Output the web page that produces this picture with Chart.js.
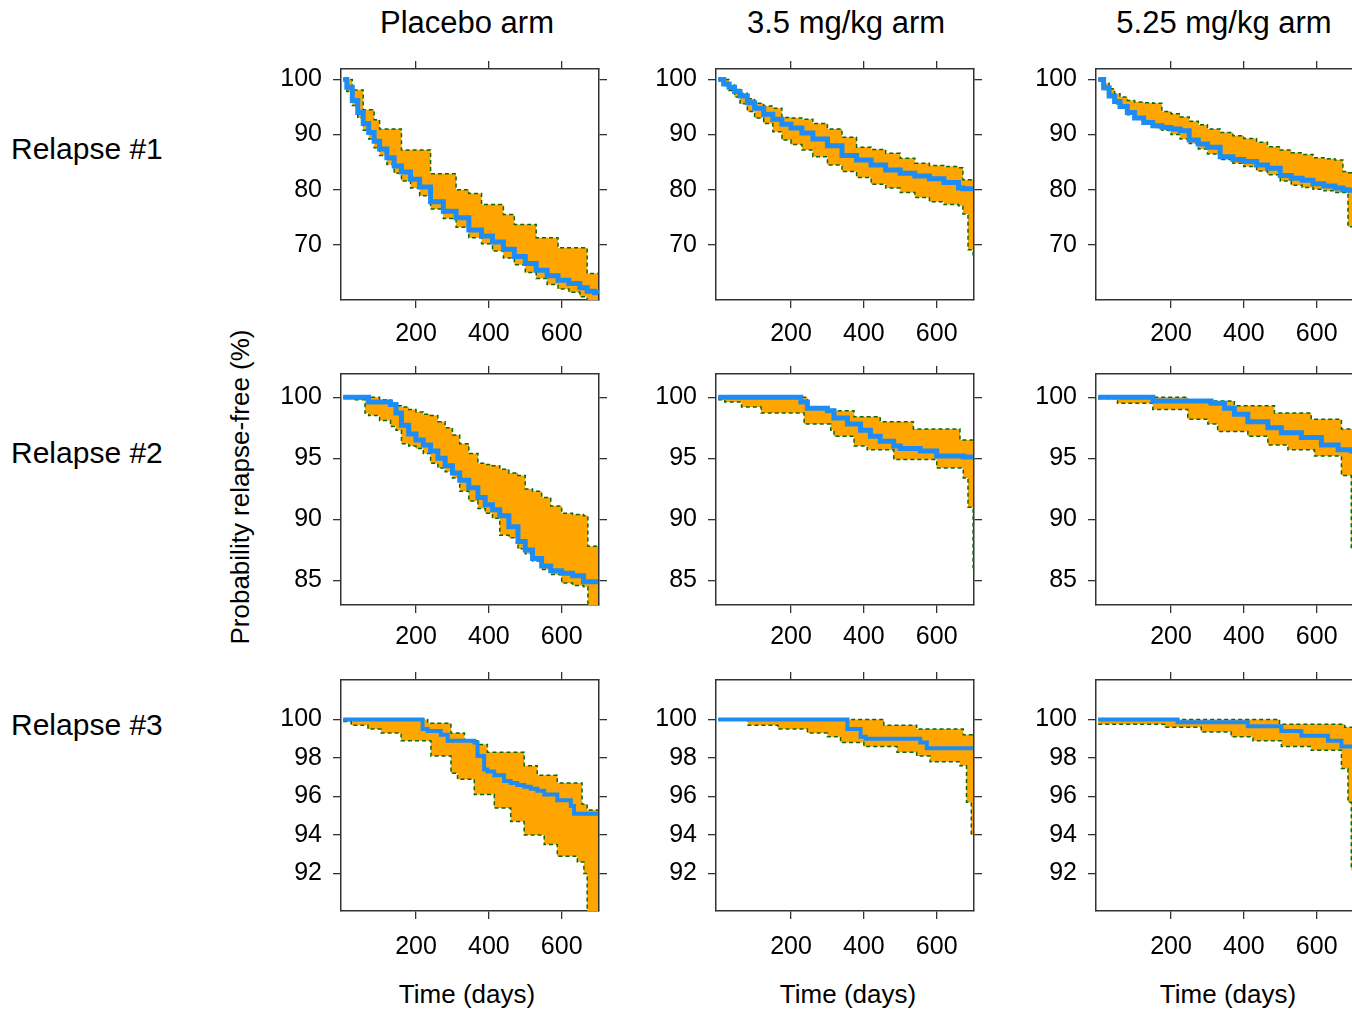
<!DOCTYPE html>
<html>
<head>
<meta charset="utf-8">
<script src="https://cdn.jsdelivr.net/npm/chart.js@4.4.1/dist/chart.umd.min.js"></script>
<style>
  html, body { margin: 0; padding: 0; background: #fff; overflow: hidden; width: 1352px; height: 1010px; }
  .lbl { position: absolute; font-family: "Liberation Sans", Arial, sans-serif; color: #000; line-height: 1; white-space: nowrap; }
  .panel { position: absolute; }
</style>
</head>
<body>
<script>
// labels
const arms = ["Placebo arm", "3.5 mg/kg arm", "5.25 mg/kg arm"];
const relapses = ["Relapse #1", "Relapse #2", "Relapse #3"];
const xTitle = "Time (days)";
const yTitle = "Probability relapse-free (%)";

// tick values
const xTicks = [200, 400, 600];
const yTicksR1 = [70, 80, 90, 100];
const yTicksR2 = [85, 90, 95, 100];
const yTicksR3 = [92, 94, 96, 98, 100];

// Relapse #1 - placebo
const r1PlaT  = [0, 10, 25, 40, 55, 70, 85, 100, 120, 140, 160, 185, 210, 240, 275, 310, 345, 380, 410, 440, 470, 500, 530, 560, 590, 620, 650, 670, 690, 700];
const r1PlaKM = [100, 98.6, 96.2, 94.0, 92.0, 90.4, 88.8, 87.4, 85.8, 84.3, 83.2, 81.9, 80.5, 77.8, 76.1, 74.9, 72.7, 71.6, 70.5, 69.2, 67.9, 66.6, 65.4, 64.4, 63.6, 63.0, 62.2, 61.6, 61.3, 61.2];
const r1PlaHi = [100, 100, 98.1, 98.1, 94.5, 94.5, 92.7, 91.0, 91.0, 91.0, 87.2, 87.2, 87.2, 82.9, 82.9, 80.0, 79.3, 77.3, 77.3, 75.5, 73.7, 73.7, 71.3, 71.3, 69.5, 69.5, 69.5, 64.8, 64.8, 64.8];
const r1PlaLo = [100, 97.8, 95.3, 93.0, 90.8, 89.2, 87.6, 86.2, 84.6, 83.0, 81.6, 80.3, 78.9, 76.5, 74.8, 73.2, 71.3, 70.2, 68.9, 67.6, 66.4, 65.0, 63.9, 62.8, 62.0, 61.4, 60.6, 59.8, 59.5, 59.5];

// Relapse #1 - 3.5 mg/kg
const r1LowT  = [0, 15, 30, 45, 60, 80, 100, 125, 150, 175, 200, 230, 260, 300, 340, 380, 420, 460, 500, 540, 580, 620, 660, 672, 686, 700];
const r1LowKM = [100, 99.2, 98.6, 97.8, 97.0, 95.8, 94.8, 93.7, 92.8, 91.9, 91.2, 90.3, 89.2, 88.0, 86.2, 85.4, 84.5, 83.6, 83.0, 82.5, 82.0, 81.3, 80.3, 80.2, 80.2, 80.2];
const r1LowHi = [100, 100, 99.0, 98.2, 97.5, 96.5, 95.7, 95.2, 94.8, 93.1, 93.0, 92.8, 92.0, 91.0, 89.5, 87.7, 87.3, 86.6, 85.7, 84.8, 84.4, 84.2, 84.0, 81.8, 81.8, 81.8];
const r1LowLo = [100, 98.8, 98.0, 96.8, 95.6, 94.2, 93.0, 92.0, 90.5, 89.0, 88.2, 87.2, 86.0, 84.5, 83.3, 82.2, 81.0, 80.3, 79.5, 78.6, 77.8, 77.3, 77.1, 75.6, 69.1, 67.6];

// Relapse #1 - 5.25 mg/kg
const r1HighT  = [0, 15, 30, 45, 60, 80, 100, 125, 150, 175, 200, 225, 250, 275, 300, 335, 370, 400, 435, 465, 500, 530, 560, 590, 620, 650, 672, 686, 700];
const r1HighKM = [100, 98.5, 97.0, 96.0, 95.1, 94.0, 93.0, 92.2, 91.6, 91.3, 91.0, 90.7, 89.0, 88.3, 87.7, 86.0, 85.5, 85.1, 84.5, 83.9, 82.6, 82.1, 81.7, 81.1, 80.7, 80.3, 80.0, 79.9, 79.8];
const r1HighHi = [100, 99.3, 98.3, 97.4, 96.8, 96.2, 95.9, 95.8, 95.7, 94.2, 93.8, 93.2, 92.4, 91.8, 91.0, 90.4, 89.8, 89.3, 88.6, 87.8, 87.2, 86.7, 86.4, 85.8, 85.6, 85.4, 83.3, 83.1, 83.0];
const r1HighLo = [100, 98.2, 96.8, 95.6, 94.8, 93.6, 92.8, 92.0, 91.3, 90.8, 90.0, 89.2, 88.4, 87.4, 86.5, 85.5, 84.8, 84.2, 83.4, 82.7, 81.6, 80.8, 80.4, 80.1, 79.8, 79.5, 79.5, 73.3, 73.3];

// Relapse #2 - placebo
const r2PlaT  = [0, 30, 60, 70, 100, 130, 145, 160, 180, 200, 220, 240, 260, 280, 300, 320, 345, 370, 390, 410, 430, 455, 480, 500, 520, 545, 570, 600, 630, 660, 672, 700];
const r2PlaKM = [100, 100, 100, 99.6, 99.6, 99.4, 98.7, 97.7, 97.0, 96.5, 96.1, 95.6, 95.0, 94.4, 93.8, 93.2, 92.6, 91.8, 91.2, 90.8, 90.3, 89.4, 88.2, 87.5, 86.8, 86.2, 85.8, 85.6, 85.4, 84.9, 84.9, 84.9];
const r2PlaHi = [100, 100, 100, 100, 99.8, 99.5, 99.3, 99.2, 99.0, 98.8, 98.6, 98.5, 98.0, 97.5, 96.9, 96.2, 95.4, 94.6, 94.5, 94.4, 94.1, 93.8, 93.6, 92.5, 92.3, 91.8, 91.1, 90.5, 90.4, 90.3, 87.8, 87.8];
const r2PlaLo = [100, 99.8, 98.7, 98.5, 98.1, 97.6, 97.3, 96.2, 96.0, 95.8, 95.4, 94.6, 94.2, 93.9, 93.4, 92.3, 91.5, 90.9, 90.5, 90.1, 88.7, 88.5, 87.6, 87.2, 86.6, 85.9, 85.5, 84.8, 84.6, 84.5, 82.0, 82.0];

// Relapse #2 - 3.5 mg/kg
const r2LowT  = [0, 18, 64, 118, 227, 236, 245, 300, 309, 318, 355, 373, 391, 409, 418, 445, 482, 500, 536, 555, 600, 664, 673, 686, 700];
const r2LowKM = [100, 100, 100, 100, 99.6, 99.6, 99.1, 98.9, 98.9, 98.3, 97.8, 97.8, 97.3, 97.3, 96.8, 96.4, 96.0, 95.8, 95.8, 95.6, 95.2, 95.2, 95.1, 95.1, 95.1];
const r2LowHi = [100, 100, 100, 100, 100, 100, 99.2, 99.0, 99.0, 98.9, 98.9, 98.4, 98.4, 98.4, 98.4, 98.0, 98.0, 98.0, 97.4, 97.4, 97.4, 96.5, 96.5, 96.5, 96.5];
const r2LowLo = [99.8, 99.6, 99.2, 98.7, 98.7, 97.8, 97.8, 97.8, 97.3, 96.8, 96.8, 96.0, 96.0, 95.7, 95.7, 95.7, 94.9, 94.9, 94.9, 94.9, 94.2, 94.2, 93.4, 91.0, 86.0];

// Relapse #2 - 5.25 mg/kg
const r2HighT  = [0, 53, 150, 246, 301, 310, 328, 347, 374, 411, 466, 484, 503, 521, 558, 585, 594, 613, 659, 668, 695, 700];
const r2HighKM = [100, 100, 99.7, 99.7, 99.7, 99.5, 99.5, 99.1, 98.6, 98.0, 97.5, 97.5, 97.1, 97.1, 96.7, 96.7, 96.7, 96.1, 95.7, 95.7, 95.6, 95.6];
const r2HighHi = [100, 100, 100, 99.7, 99.7, 99.7, 99.7, 99.7, 99.3, 99.3, 99.3, 98.7, 98.7, 98.7, 98.7, 98.2, 98.2, 98.2, 98.2, 97.4, 97.4, 97.4];
const r2HighLo = [99.9, 99.5, 99.0, 98.2, 97.8, 97.8, 97.2, 97.2, 97.2, 96.8, 96.1, 96.1, 96.1, 95.7, 95.7, 95.7, 95.2, 95.2, 95.2, 93.6, 87.7, 87.7];

// Relapse #3 - placebo
const r3PlaT  = [0, 22, 68, 104, 159, 218, 232, 241, 268, 287, 296, 314, 333, 360, 369, 387, 396, 415, 442, 460, 478, 497, 515, 533, 552, 588, 625, 634, 643, 656, 661, 670, 700];
const r3PlaKM = [100, 100, 100, 100, 100, 99.5, 99.4, 99.4, 99.2, 98.9, 98.9, 98.9, 98.9, 98.8, 98.1, 97.4, 97.3, 97.1, 96.8, 96.7, 96.6, 96.5, 96.4, 96.3, 96.1, 95.8, 95.5, 95.1, 95.1, 95.1, 95.1, 95.1, 95.1];
const r3PlaHi = [100, 100, 100, 100, 100, 100, 99.8, 99.8, 99.8, 99.8, 99.3, 99.3, 98.9, 98.9, 98.7, 98.7, 98.3, 98.3, 98.3, 98.3, 98.3, 97.6, 97.6, 97.1, 97.1, 96.7, 96.7, 96.7, 96.7, 95.6, 95.6, 95.3, 95.3];
const r3PlaLo = [99.9, 99.7, 99.5, 99.3, 98.9, 98.9, 98.9, 98.1, 98.1, 98.1, 97.2, 96.9, 96.9, 96.1, 96.1, 96.1, 96.1, 95.4, 95.4, 94.7, 94.7, 94.0, 94.0, 94.0, 93.5, 92.9, 92.9, 92.9, 92.6, 92.6, 92.0, 90.0, 90.0];

// Relapse #3 - 3.5 mg/kg
const r3LowT  = [0, 82, 164, 245, 300, 336, 355, 391, 400, 405, 455, 491, 545, 555, 573, 582, 664, 673, 682, 695, 700];
const r3LowKM = [100, 100, 100, 100, 100, 100, 99.5, 99.1, 99.1, 99.0, 99.0, 99.0, 99.0, 98.8, 98.5, 98.5, 98.5, 98.5, 98.5, 98.5, 98.5];
const r3LowHi = [100, 100, 100, 100, 100, 100, 100, 100, 100, 100, 99.7, 99.7, 99.5, 99.5, 99.5, 99.5, 99.5, 99.2, 99.2, 99.2, 99.2];
const r3LowLo = [100, 99.7, 99.5, 99.3, 99.1, 98.8, 98.8, 98.8, 98.6, 98.6, 98.6, 98.3, 98.1, 98.1, 98.1, 97.8, 97.6, 97.6, 95.7, 94.0, 94.0];

// Relapse #3 - 5.25 mg/kg
const r3HighT  = [0, 182, 211, 218, 283, 365, 411, 425, 498, 503, 558, 585, 631, 668, 677, 686, 695, 700];
const r3HighKM = [100, 100, 100, 99.85, 99.85, 99.85, 99.65, 99.65, 99.65, 99.4, 99.15, 99.15, 98.9, 98.6, 98.6, 98.6, 98.6, 98.6];
const r3HighHi = [100, 100, 100, 100, 100, 100, 100, 100, 99.75, 99.75, 99.75, 99.75, 99.75, 99.75, 99.6, 99.6, 99.6, 99.6];
const r3HighLo = [99.75, 99.6, 99.6, 99.6, 99.35, 99.1, 99.1, 98.9, 98.9, 98.6, 98.6, 98.4, 98.4, 97.45, 97.45, 95.7, 92.2, 92.2];

const panels = [
  [r1PlaT, r1PlaKM, r1PlaLo, r1PlaHi], [r1LowT, r1LowKM, r1LowLo, r1LowHi], [r1HighT, r1HighKM, r1HighLo, r1HighHi],
  [r2PlaT, r2PlaKM, r2PlaLo, r2PlaHi], [r2LowT, r2LowKM, r2LowLo, r2LowHi], [r2HighT, r2HighKM, r2HighLo, r2HighHi],
  [r3PlaT, r3PlaKM, r3PlaLo, r3PlaHi], [r3LowT, r3LowKM, r3LowLo, r3LowHi], [r3HighT, r3HighKM, r3HighLo, r3HighHi]
];

// layout
const FONT = '"Liberation Sans", Arial, sans-serif';
const colLeft = [341, 716, 1096];
const rowTop = [65, 370, 676];
const plotW = 258, plotH = 235;
const padL = 75, padR = 22, padT = 22, padB = 55;
const yRange = [[60, 101.9], [83, 101.9], [90.05, 102.05]];
const yTicks = [yTicksR1, yTicksR2, yTicksR3];
const xLabelPad = [11, 9, 13];
const xMin = -6, xMax = 702.5;

function axis(pos, min, max, vals, showLabels, size, pad) {
  const isX = pos === "top" || pos === "bottom";
  return {
    type: "linear", position: pos, min: min, max: max,
    afterBuildTicks: s => { s.ticks = vals.map(v => ({ value: v })); },
    afterFit: s => { if (isX) s.height = size; else s.width = size; },
    ticks: {
      display: showLabels, autoSkip: false, maxRotation: 0, color: "#000",
      padding: pad, font: { family: FONT, size: 25 }
    },
    grid: { drawOnChartArea: false, drawTicks: true, tickLength: 8, color: "#333", lineWidth: 1.3 },
    border: { display: true, color: "#333", width: 1.5 }
  };
}

function makePanel(row, col, t, km, lo, hi) {
  const div = document.createElement("div");
  div.className = "panel";
  div.style.left = (colLeft[col] - padL) + "px";
  div.style.top = (rowTop[row] - padT) + "px";
  const cv = document.createElement("canvas");
  cv.width = plotW + padL + padR;
  cv.height = plotH + padT + padB;
  div.appendChild(cv);
  document.body.appendChild(div);

  const pts = arr => t.map((x, i) => ({ x: x, y: arr[i] }));
  const [ymin, ymax] = yRange[row];

  new Chart(cv, {
    type: "line",
    data: {
      datasets: [
        { data: pts(km), stepped: true, borderColor: "#1E8CF5", borderWidth: row === 2 ? 4 : 5,
          pointRadius: 0, fill: false, order: 0 },
        { data: pts(lo), stepped: true, borderColor: "#0B6B0B", borderDash: [4, 3], borderWidth: 1.5,
          pointRadius: 0, fill: false, order: 1, clip: 0 },
        { data: pts(hi), stepped: true, borderColor: "#0B6B0B", borderDash: [4, 3], borderWidth: 1.5,
          pointRadius: 0, fill: 1, backgroundColor: "#FFA500", order: 2, clip: 0 }
      ]
    },
    options: {
      responsive: false,
      animation: false,
      layout: { padding: 0 },
      plugins: { legend: { display: false }, tooltip: { enabled: false } },
      scales: {
        x: axis("bottom", xMin, xMax, xTicks, true, padB, xLabelPad[row]),
        x2: axis("top", xMin, xMax, xTicks, false, padT, 0),
        y: axis("left", ymin, ymax, yTicks[row], true, padL, 11),
        y2: axis("right", ymin, ymax, yTicks[row], false, padR, 0)
      }
    }
  });
}

panels.forEach((p, i) => makePanel(Math.floor(i / 3), i % 3, p[0], p[1], p[2], p[3]));

// text
function addText(txt, size, x, baseline, align) {
  const d = document.createElement("div");
  d.className = "lbl";
  d.textContent = txt;
  d.style.fontSize = size + "px";
  d.style.top = (baseline - 0.8465 * size) + "px";
  d.style.left = x + "px";
  if (align === "center") d.style.transform = "translateX(-50%)";
  document.body.appendChild(d);
}

const titleX = [467, 846, 1224];
arms.forEach((a, i) => addText(a, 31, titleX[i], 33.3, "center"));
const relBase = [159, 463, 735];
relapses.forEach((r, i) => addText(r, 30, 11, relBase[i], "left"));
const timeX = [467, 848, 1228];
timeX.forEach(x => addText(xTitle, 26, x, 1003, "center"));

const yt = document.createElement("div");
yt.className = "lbl";
yt.textContent = yTitle;
yt.style.fontSize = "26px";
yt.style.left = "240px";
yt.style.top = "487px";
yt.style.transform = "translate(-50%, -50%) rotate(-90deg)";
document.body.appendChild(yt);
</script>
</body>
</html>
